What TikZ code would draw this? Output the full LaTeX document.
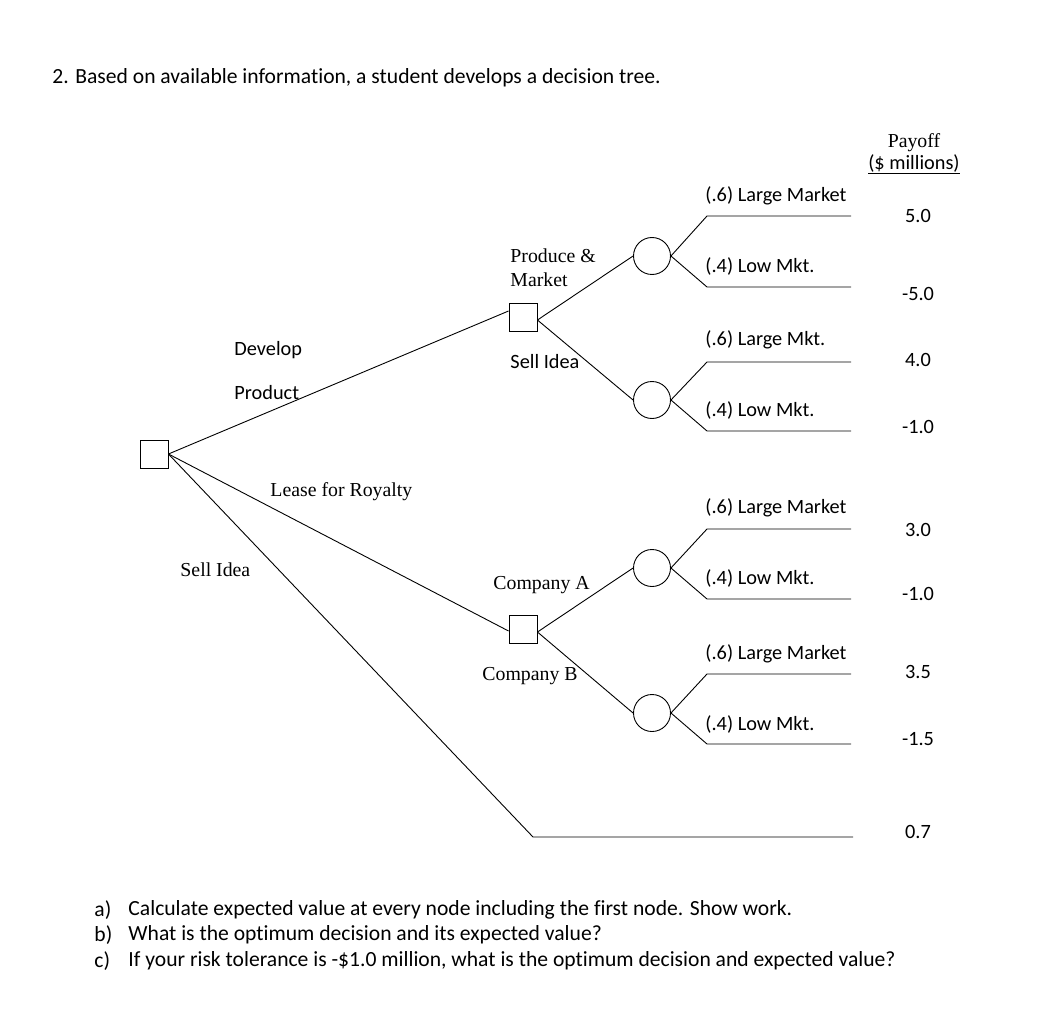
\documentclass[tikz,border=0pt]{standalone}
\usepackage{fontspec}
\setmainfont{Carlito}[Ligatures=NoCommon]
\newfontfamily\tms{Liberation Serif}
\begin{document}
\begin{tikzpicture}[x=1pt,y=-1pt,
  line width=0.9pt,
  dec/.style={draw,minimum size=28pt,inner sep=0pt},
  chance/.style={draw,circle,minimum size=37pt,inner sep=0pt},
  lbl/.style={font=\fontsize{20.3}{24}\selectfont,anchor=west,inner sep=0pt},
  tlbl/.style={font=\tms\fontsize{19.8}{24}\selectfont,anchor=west,inner sep=0pt},
  pay/.style={font=\fontsize{20.3}{24}\selectfont,inner sep=0pt},
  txt/.style={font=\fontsize{21.6}{26}\selectfont,anchor=west,inner sep=0pt}]
\useasboundingbox (0,0) rectangle (1062,1024);

\node[txt] (title) at (52,78) {2. Based on available information, a student develops a decision tree.};

% nodes
\node[dec] (root) at (154,454) {};
\node[dec] (d1) at (523,317) {};
\node[dec] (d2) at (523,629) {};
\node[chance] (c1) at (652,256) {};
\node[chance] (c2) at (652,400) {};
\node[chance] (c3) at (652,568) {};
\node[chance] (c4) at (652,713) {};

% end coordinates
\coordinate (k1) at (707,216); \coordinate (e1) at (851,216);
\coordinate (k2) at (707,287); \coordinate (e2) at (851,287);
\coordinate (k3) at (707,362); \coordinate (e3) at (851,362);
\coordinate (k4) at (707,431); \coordinate (e4) at (851,431);
\coordinate (k5) at (707,529); \coordinate (e5) at (851,529);
\coordinate (k6) at (707,599); \coordinate (e6) at (851,599);
\coordinate (k7) at (707,674); \coordinate (e7) at (851,674);
\coordinate (k8) at (707,744); \coordinate (e8) at (851,744);
\coordinate (k9) at (533,837); \coordinate (e9) at (853,837);

% connectors
\draw (root.east) -- ([yshift=6pt]d1.west);
\draw (root.east) -- ([yshift=-2pt]d2.west);
\draw (root.east) -- (k9) -- (e9);
\draw ([yshift=-3pt]d1.east) -- (c1.west);
\draw ([yshift=-3pt]d1.east) -- (c2.west);
\draw ([yshift=-3pt]d2.east) -- (c3.west);
\draw ([yshift=-3pt]d2.east) -- (c4.west);
\draw (c1.east) -- (k1) -- (e1);
\draw (c1.east) -- (k2) -- (e2);
\draw (c2.east) -- (k3) -- (e3);
\draw (c2.east) -- (k4) -- (e4);
\draw (c3.east) -- (k5) -- (e5);
\draw (c3.east) -- (k6) -- (e6);
\draw (c4.east) -- (k7) -- (e7);
\draw (c4.east) -- (k8) -- (e8);

% branch labels
\node[lbl] (l1) at (234,350) {Develop};
\node[lbl] (l2) at (234,393) {Product};
\node[tlbl] (l3) at (270,492) {Lease for Royalty};
\node[tlbl] (l4) at (180,570) {Sell Idea};
\node[tlbl] (l5) at (510,256) {Produce \&};
\node[tlbl] (l6) at (510,280) {Market};
\node[lbl] (l7) at (510,362) {Sell Idea};
\node[tlbl] (l8) at (493,585) {Company A};
\node[tlbl] (l9) at (482,676) {Company B};

\node[lbl] (o1) at (705,196) {(.6) Large Market};
\node[lbl] (o2) at (705,266) {(.4) Low Mkt.};
\node[lbl] (o3) at (705,340) {(.6) Large Mkt.};
\node[lbl] (o4) at (705,410) {(.4) Low Mkt.};
\node[lbl] (o5) at (705,508) {(.6) Large Market};
\node[lbl] (o6) at (705,578) {(.4) Low Mkt.};
\node[lbl] (o7) at (705,654) {(.6) Large Market};
\node[lbl] (o8) at (705,724) {(.4) Low Mkt.};

% payoffs
\node[font=\tms\fontsize{19.8}{24}\selectfont,inner sep=0pt] (ph) at (914,143) {Payoff};
\node[pay] (pu) at (914,164) {\underline{(\$ millions)}};
\node[pay] (p1) at (918,216) {5.0};
\node[pay] (p2) at (918,294) {-5.0};
\node[pay] (p3) at (918,360) {4.0};
\node[pay] (p4) at (918,427) {-1.0};
\node[pay] (p5) at (918,530) {3.0};
\node[pay] (p6) at (918,594) {-1.0};
\node[pay] (p7) at (918,672) {3.5};
\node[pay] (p8) at (918,739) {-1.5};
\node[pay] (p9) at (918,832) {0.7};

% questions
\node[txt] (qa) at (94,910) {a)};
\node[txt] (qb) at (94,935) {b)};
\node[txt] (qc) at (94,961) {c)};
\node[txt] (ta) at (128,910) {Calculate expected value at every node including the first node. Show work.};
\node[txt] (tb) at (128,935) {What is the optimum decision and its expected value?};
\node[txt] (tc) at (128,961) {If your risk tolerance is -\$1.0 million, what is the optimum decision and expected value?};
\end{tikzpicture}
\end{document}
